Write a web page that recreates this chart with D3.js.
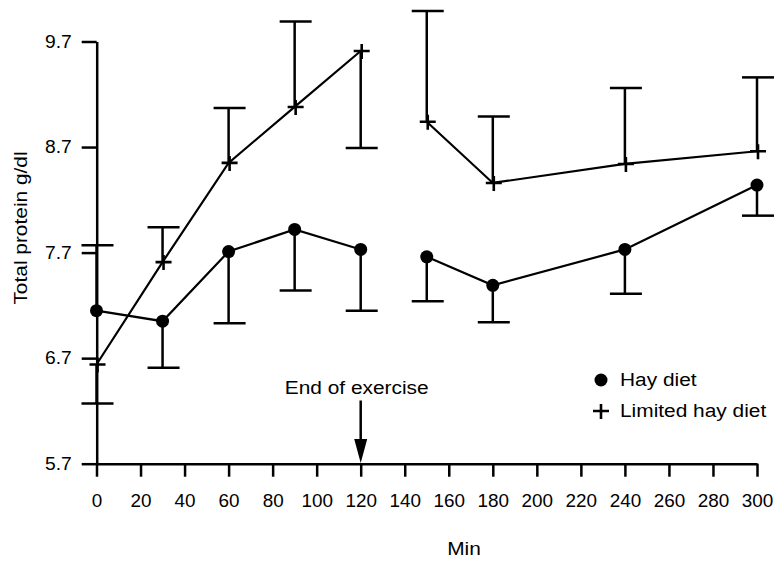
<!DOCTYPE html>
<html>
<head>
<meta charset="utf-8">
<script src="https://cdn.jsdelivr.net/npm/d3@7/dist/d3.min.js"></script>
<style>
  html, body { margin: 0; padding: 0; background: #fff; }
  svg { display: block; }
  text { font-family: "Liberation Sans", Arial, sans-serif; font-size: 18px; fill: #000; }
  .axis path, .axis line { stroke: #000; stroke-width: 2.5; }
</style>
</head>
<body>
<svg id="chart" width="778" height="561"></svg>
<script>
// minutes after start of exercise
const times = [0, 30, 60, 90, 120, 150, 180, 240, 300];

// Hay diet (filled circles)
const hayMean = [7.15, 7.05, 7.71, 7.92, 7.73, 7.66, 7.39, 7.73, 8.34];
const haySD = [0.62, 0.44, 0.68, 0.58, 0.58, 0.42, 0.35, 0.42, 0.29];
const hayBarSide = [1, -1, -1, -1, -1, -1, -1, -1, -1];

// Limited hay diet (plus signs)
const limMean = [6.64, 7.61, 8.55, 9.08, 9.61, 8.94, 8.36, 8.54, 8.66];
const limSD = [0.37, 0.33, 0.52, 0.81, 0.92, 1.05, 0.63, 0.72, 0.70];
const limBarSide = [-1, 1, 1, 1, -1, 1, 1, 1, 1];

const xTicks = d3.range(0, 301, 20);
const yTicks = [5.7, 6.7, 7.7, 8.7, 9.7];
const exerciseEnd = 120;

const stretch = 1.16;   // the source font is wider than Arial
const capW = 32;

const svg = d3.select('#chart');
const x = d3.scaleLinear().domain([0, 300]).range([96.5, 757]);
const y = d3.scaleLinear().domain([5.7, 9.7]).range([463.7, 41.5]);

// axes
const xAxis = svg.append('g')
  .attr('class', 'axis')
  .attr('transform', 'translate(0,463.7)')
  .call(d3.axisBottom(x).tickValues(xTicks).tickSize(13).tickSizeOuter(0).tickPadding(18));
xAxis.selectAll('text')
  .attr('transform', `scale(${1.05},1)`)
  .attr('x', null);

const yAxis = svg.append('g')
  .attr('class', 'axis')
  .attr('transform', 'translate(96.7,0)')
  .call(d3.axisLeft(y).tickValues(yTicks).tickSize(15).tickSizeOuter(0).tickPadding(10)
    .tickFormat(d3.format('.1f')));
yAxis.selectAll('text')
  .attr('x', null)
  .attr('transform', `translate(-25,0) scale(${1.07},1)`);
svg.selectAll('.axis text').style('font-size', '18px').style('font-family', '"Liberation Sans", Arial, sans-serif');

function label(txt, px, py, anchor, rot) {
  return svg.append('text')
    .attr('text-anchor', anchor)
    .attr('transform', `translate(${px},${py})` + (rot ? ` rotate(${rot})` : '') + ` scale(${stretch},1)`)
    .text(txt);
}

label('Min', 464, 555, 'middle');
label('Total protein g/dl', 27, 228, 'middle', -90);

// series
function series(mean, sd, side) {
  return times.map((t, i) => ({ t, v: mean[i], sd: sd[i], side: side[i] }));
}
const hay = series(hayMean, haySD, hayBarSide);
const lim = series(limMean, limSD, limBarSide);

const line = d3.line().x(d => x(d.t)).y(d => y(d.v));

function drawSeries(data, marker) {
  const g = svg.append('g');
  // error bars, one side only
  const eb = g.selectAll('.eb').data(data).join('g').attr('class', 'eb');
  eb.append('line')
    .attr('x1', d => x(d.t)).attr('x2', d => x(d.t))
    .attr('y1', d => y(d.v)).attr('y2', d => y(d.v + d.side * d.sd))
    .attr('stroke', '#000').attr('stroke-width', 2.5);
  eb.append('line')
    .attr('x1', d => x(d.t) - capW / 2 + 1).attr('x2', d => x(d.t) + capW / 2 + 1)
    .attr('y1', d => y(d.v + d.side * d.sd)).attr('y2', d => y(d.v + d.side * d.sd))
    .attr('stroke', '#000').attr('stroke-width', 2.5);
  // connecting lines, broken between exercise and recovery
  [data.filter(d => d.t <= exerciseEnd), data.filter(d => d.t > exerciseEnd)].forEach(seg => {
    g.append('path').datum(seg)
      .attr('d', line)
      .attr('fill', 'none').attr('stroke', '#000').attr('stroke-width', 2.2);
  });
  g.selectAll('.mk').data(data).join(enter => marker(enter.append('g')))
    .attr('transform', d => `translate(${x(d.t)},${y(d.v)})`);
}

function circleMark(sel) {
  sel.append('circle').attr('r', 6.5).attr('fill', '#000');
  return sel;
}
function plusMark(sel) {
  sel.append('path').attr('d', 'M-7,0H9M1,-7V8')
    .attr('stroke', '#000').attr('stroke-width', 2.6).attr('fill', 'none');
  return sel;
}

drawSeries(hay, circleMark);
drawSeries(lim, plusMark);

// end of exercise arrow
const ax = x(exerciseEnd);
svg.append('line')
  .attr('x1', ax).attr('x2', ax).attr('y1', 400.5).attr('y2', 442)
  .attr('stroke', '#000').attr('stroke-width', 2.5);
svg.append('path')
  .attr('d', `M${ax - 6.5},439L${ax + 6.5},439L${ax},463Z`)
  .attr('fill', '#000');
label('End of exercise', ax - 4, 394, 'middle');

// legend
const legend = svg.append('g').attr('transform', 'translate(601,0)');
circleMark(legend.append('g').attr('transform', 'translate(0,380)'));
plusMark(legend.append('g').attr('transform', 'translate(-1,411)'));
label('Hay diet', 620, 386, 'start');
label('Limited hay diet', 620, 417, 'start');
</script>
</body>
</html>
